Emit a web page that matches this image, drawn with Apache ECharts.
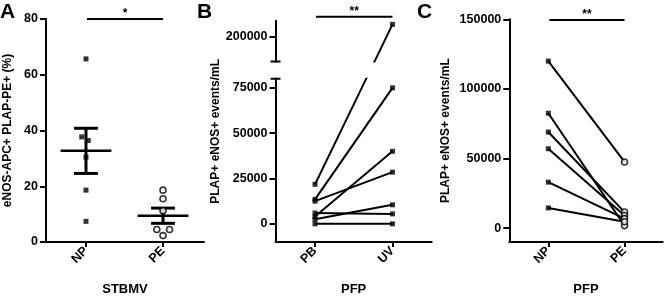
<!DOCTYPE html>
<html lang="en">
<head>
<meta charset="UTF-8">
<title>eNOS PLAP</title>
<style>
    * { margin: 0; padding: 0; }
    html, body { width: 100%; height: 100%; background: #fff; }
    #chart { width: 666px; height: 301px; }
</style>
</head>
<body>
<div id="chart"></div>
<script src="https://cdn.jsdelivr.net/npm/echarts@6.0.0/dist/echarts.min.js"></script>
<script>
// panel A - STBMV, % eNOS+ of PLAP+
const aGroups = ['NP', 'PE'];
const aNP = [65.7, 37.7, 36.4, 30.4, 18.6, 7.4];
const aNPJitter = [0, -0.055, 0.03, 0, 0, 0];
const aPE = [18.6, 15.5, 11.2, 4.5, 4.5, 2.3];
const aPEJitter = [0, 0, 0, -0.08, 0.085, 0];
const aTicks = [0, 20, 40, 60, 80];

// panel B - PFP, paired PB / UV
const bGroups = ['PB', 'UV'];
const bPB = [21800, 13500, 12500, 6000, 4000, 2500, 0];
const bUV = [207000, 75000, 28500, 5500, 40000, 10500, 0];
const bTicks = [0, 25000, 50000, 75000, 200000];

// panel C - PFP, NP vs PE
const cGroups = ['NP', 'PE'];
const cNP = [120000, 82500, 69000, 57000, 33000, 14500];
const cPE = [47500, 1800, 11500, 9000, 6800, 4600];
const cTicks = [0, 50000, 100000, 150000];

// y axis break in panel B (80000 .. 186500 squeezed into a small gap)
const brkLo = 80000, brkHi = 186500, brkGap = 9500;
const brkShift = brkHi - brkLo - brkGap;
const toB = v => (v <= brkLo ? v : v - brkShift);
const fromB = v => (v <= brkLo ? v : v + brkShift);

const FONT = 'Liberation Sans, Arial, sans-serif';
const black = '#000';

function meanSem(arr) {
    const n = arr.length;
    const m = arr.reduce((s, v) => s + v, 0) / n;
    const sd = Math.sqrt(arr.reduce((s, v) => s + (v - m) * (v - m), 0) / (n - 1));
    return [m, sd / Math.sqrt(n)];
}

function xAxisFor(grid, names, min, max, title) {
    return {
        type: 'value', gridIndex: grid, min: min, max: max,
        axisLine: { show: true, onZero: false, lineStyle: { color: black, width: 2 } },
        axisTick: { show: true, customValues: [0, 1], length: 5, lineStyle: { color: black, width: 2 } },
        axisLabel: {
            customValues: [0, 1], rotate: 45, margin: 7,
            color: black, fontFamily: FONT, fontWeight: 'bold', fontSize: 12.5,
            formatter: v => names[v]
        },
        splitLine: { show: false },
        name: title, nameLocation: 'middle', nameGap: 41,
        nameTextStyle: { color: black, fontFamily: FONT, fontWeight: 'bold', fontSize: 13 }
    };
}

function yAxisFor(grid, min, max, ticks, title, gap, fmt) {
    return {
        type: 'value', gridIndex: grid, min: min, max: max,
        axisLine: { show: true, onZero: false, lineStyle: { color: black, width: 2 } },
        axisTick: { show: true, customValues: ticks, length: 6, lineStyle: { color: black, width: 2 } },
        axisLabel: {
            customValues: ticks, margin: 8,
            color: black, fontFamily: FONT, fontWeight: 'bold', fontSize: 12.5,
            formatter: fmt || (v => String(v))
        },
        splitLine: { show: false },
        name: title, nameLocation: 'middle', nameGap: gap,
        nameTextStyle: { color: black, fontFamily: FONT, fontWeight: 'bold', fontSize: 12 }
    };
}

const series = [];

// A: mean +/- SEM bars
const aStats = [meanSem(aNP), meanSem(aPE)];
series.push({
    type: 'custom', xAxisIndex: 0, yAxisIndex: 0, z: 2, silent: true,
    data: aStats.map((s, i) => [i, s[0], s[0] - s[1], s[0] + s[1]]),
    encode: { x: 0, y: [1, 2, 3] },
    renderItem: function (params, api) {
        const x = api.value(0), m = api.value(1), lo = api.value(2), hi = api.value(3);
        const seg = (x1, y1, x2, y2, w) => {
            const p1 = api.coord([x1, y1]), p2 = api.coord([x2, y2]);
            return { type: 'line', shape: { x1: p1[0], y1: p1[1], x2: p2[0], y2: p2[1] },
                     style: { stroke: black, lineWidth: w } };
        };
        return { type: 'group', children: [
            seg(x - 0.33, m, x + 0.33, m, 2.5),
            seg(x, lo, x, hi, 3),
            seg(x - 0.155, lo, x + 0.155, lo, 3),
            seg(x - 0.155, hi, x + 0.155, hi, 3)
        ] };
    }
});
series.push({
    type: 'scatter', xAxisIndex: 0, yAxisIndex: 0, z: 3, silent: true,
    data: aNP.map((v, i) => [0 + aNPJitter[i], v]),
    symbol: 'rect', symbolSize: 5, itemStyle: { color: black }
});
series.push({
    type: 'scatter', xAxisIndex: 0, yAxisIndex: 0, z: 3, silent: true,
    data: aPE.map((v, i) => [1 + aPEJitter[i], v]),
    symbol: 'circle', symbolSize: 6,
    itemStyle: { color: '#fff', borderColor: black, borderWidth: 1.6 }
});

// B: paired lines
bPB.forEach((v, i) => {
    series.push({
        type: 'line', xAxisIndex: 1, yAxisIndex: 1, z: 2, silent: true,
        data: [[0, toB(v)], [1, toB(bUV[i])]],
        symbol: 'none', lineStyle: { color: black, width: 2 }
    });
});
series.push({
    type: 'scatter', xAxisIndex: 1, yAxisIndex: 1, z: 3, silent: true,
    data: bPB.map(v => [0, toB(v)]).concat(bUV.map(v => [1, toB(v)])),
    symbol: 'rect', symbolSize: 5, itemStyle: { color: black }
});

// C: paired lines
cNP.forEach((v, i) => {
    series.push({
        type: 'line', xAxisIndex: 2, yAxisIndex: 2, z: 2, silent: true,
        data: [[0, v], [1, cPE[i]]],
        symbol: 'none', lineStyle: { color: black, width: 2 }
    });
});
series.push({
    type: 'scatter', xAxisIndex: 2, yAxisIndex: 2, z: 3, silent: true,
    data: cNP.map(v => [0, v]),
    symbol: 'rect', symbolSize: 5, itemStyle: { color: black }
});
series.push({
    type: 'scatter', xAxisIndex: 2, yAxisIndex: 2, z: 3, silent: true,
    data: cPE.map(v => [1, v]),
    symbol: 'circle', symbolSize: 6,
    itemStyle: { color: '#fff', borderColor: black, borderWidth: 1.6 }
});

const chart = echarts.init(document.getElementById('chart'), null, { renderer: 'canvas' });
const option = {
    animation: false,
    backgroundColor: '#fff',
    grid: [
        { left: 46, top: 19, width: 158, height: 231 },
        { left: 275.5, top: 20.7, width: 156.2, height: 231.6 },
        { left: 509.3, top: 19.3, width: 153.4, height: 231.9 }
    ],
    xAxis: [
        xAxisFor(0, aGroups, -0.519, 1.532, 'STBMV'),
        xAxisFor(1, bGroups, -0.51, 1.506, 'PFP'),
        xAxisFor(2, cGroups, -0.512, 1.501, 'PFP')
    ],
    yAxis: [
        yAxisFor(0, 0, 80, aTicks, 'eNOS-APC+ PLAP-PE+ (%)', 32),
        yAxisFor(1, -10000, toB(209000), bTicks.map(toB), 'PLAP+ eNOS+ events/mL', 51.5, v => String(fromB(v))),
        yAxisFor(2, -10000, 150000, cTicks, 'PLAP+ eNOS+ events/mL', 58)
    ],
    series: series
};
chart.setOption(option);

// annotations: panel letters, significance bars, axis break
const px = (g, p) => chart.convertToPixel({ gridIndex: g }, p);
const gfx = [];
const txt = (s, x, y, size, align) => ({
    type: 'text', x: x, y: y, z: 60, silent: true,
    style: { text: s, fill: black, font: 'bold ' + size + 'px ' + FONT,
             textAlign: align || 'left', textVerticalAlign: 'middle' }
});
const ln = (x1, y1, x2, y2, w) => ({
    type: 'line', z: 60, silent: true,
    shape: { x1: x1, y1: y1, x2: x2, y2: y2 },
    style: { stroke: black, lineWidth: w || 2 }
});

gfx.push(txt('A', 0, 12, 21));
gfx.push(txt('B', 197, 12, 21));
gfx.push(txt('C', 417, 12, 21));

// significance bars
const sig = [
    { g: 0, y: px(0, [0, 80])[1], mark: '*' },
    { g: 1, y: 16.7, mark: '**' },
    { g: 2, y: px(2, [0, 150000])[1] + 0.7, mark: '**' }
];
sig.forEach(s => {
    const x1 = px(s.g, [0, 0])[0] + 1, x2 = px(s.g, [1, 0])[0];
    gfx.push(ln(x1, s.y, x2, s.y, 2));
    gfx.push(txt(s.mark, (x1 + x2) / 2, s.y - 5, 12, 'center'));
});

// broken axis in B
const axX = px(1, [-0.51, 0])[0];
const xRight = px(1, [1.506, 0])[0];
const yLo = px(1, [0, brkLo])[1];
const yHi = px(1, [0, toB(brkHi)])[1];
gfx.push({
    type: 'rect', z: 55, silent: true,
    shape: { x: axX - 8, y: yHi + 1, width: xRight - axX + 8, height: yLo - yHi - 2 },
    style: { fill: '#fff' }
});
gfx.push(ln(axX - 5, yLo, axX + 5, yLo, 2));
gfx.push(ln(axX - 5, yHi, axX + 5, yHi, 2));

chart.setOption({ graphic: { elements: gfx } });
</script>
</body>
</html>
